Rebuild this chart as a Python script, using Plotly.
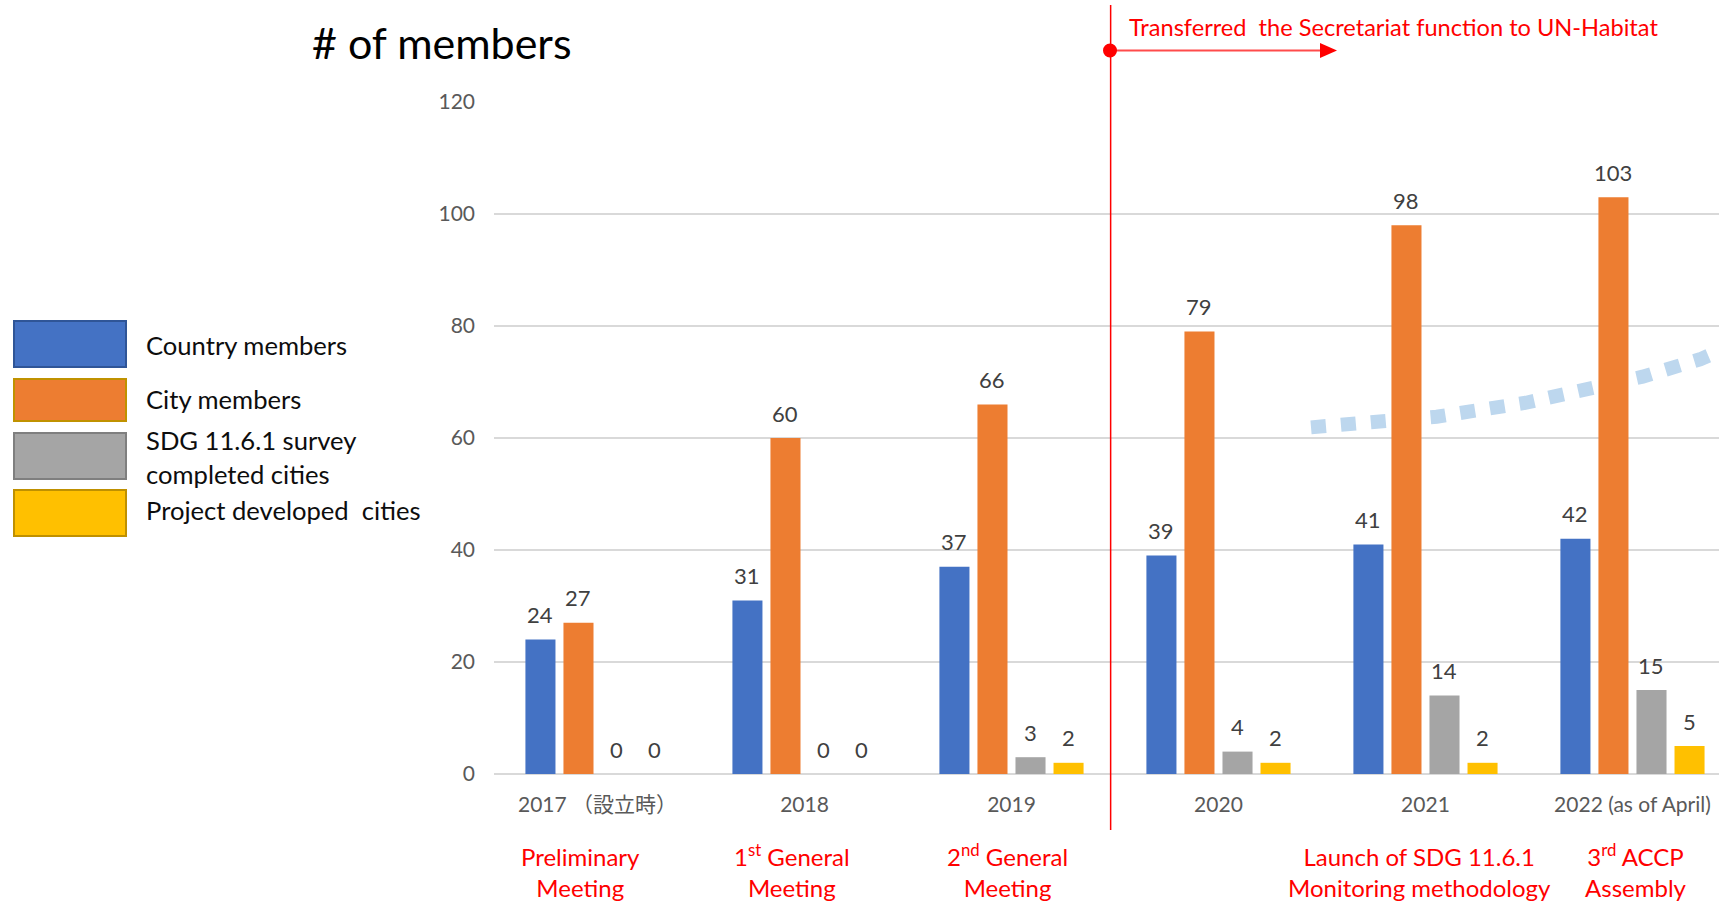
import plotly.graph_objects as go

# ---------------- data ----------------
categories = ["2017 （設立時）", "2018", "2019", "2020", "2021", "2022 (as of April)"]
country_members = [24, 31, 37, 39, 41, 42]
city_members = [27, 60, 66, 79, 98, 103]
sdg_survey_cities = [0, 0, 3, 4, 14, 15]
project_cities = [0, 0, 2, 2, 2, 5]

series_names = ["Country members", "City members",
                "SDG 11.6.1 survey completed cities", "Project developed  cities"]
series_values = [country_members, city_members, sdg_survey_cities, project_cities]

events = ["Preliminary<br>Meeting", "1<sup>st</sup> General<br>Meeting",
          "2<sup>nd</sup> General<br>Meeting", "",
          "Launch of SDG 11.6.1<br>Monitoring methodology", "3<sup>rd</sup> ACCP<br>Assembly"]

# light-blue dotted trend (category-index units / members)
trend_x = [3.447, 4.054, 4.486, 4.767, 5.049, 5.326, 5.5]
trend_y = [61.9, 63.8, 66.3, 68.45, 70.95, 74.05, 76.8]

y_ticks = [0, 20, 40, 60, 80, 100, 120]
transfer_at = 2.479  # position of Secretariat transfer (between 2019 and 2020)

# ---------------- styles ----------------
W, H = 1719, 902
L, R, T, B = 494, 1719, 102, 774
FONT = "Lato, 'Noto Sans CJK JP', sans-serif"
colors = ["#4472C4", "#ED7D31", "#A5A5A5", "#FFC000"]
legend_borders = ["#2F5597", "#C09200", "#7F7F7F", "#BF9000"]
RED = "#FF0000"
BARGAP, GROUPGAP = 0.265, 0.21
XMAX = 5.418


def pxx(x):
    return (x - L) / (R - L)


def pyp(y):
    return (B - y) / (B - T)


fig = go.Figure()

fig.add_trace(go.Scatter(
    x=trend_x, y=trend_y, mode="lines",
    line=dict(color="#BDD7EE", width=14, dash="15px,15px"),
    hoverinfo="skip", showlegend=False, zorder=0))

for name, vals, col in zip(series_names, series_values, colors):
    fig.add_trace(go.Bar(
        x=list(range(len(categories))), y=vals, name=name,
        marker=dict(color=col, line=dict(width=0)),
        showlegend=False, zorder=1))

band_px = (R - L) / (XMAX + 0.5)
slot_px = band_px * (1 - BARGAP) / 4

annotations = []
# data labels
for k, vals in enumerate(series_values):
    for i, v in enumerate(vals):
        annotations.append(dict(
            x=i, y=v, xref="x", yref="y", text=str(v), showarrow=False,
            xshift=(k - 1.5) * slot_px, yshift=25, yanchor="middle",
            font=dict(family=FONT, size=22, color="#404040")))

# event labels
event_shift = [-17, -12, -4, 0, -6, 4]
for i, ev in enumerate(events):
    if ev:
        annotations.append(dict(
            x=i, y=pyp(904), xref="x", yref="paper", text=ev, showarrow=False,
            xshift=event_shift[i], yanchor="bottom", xanchor="center", align="center",
            font=dict(family=FONT, size=24, color=RED)))

# title
annotations.append(dict(
    x=pxx(310), y=pyp(43), xref="paper", yref="paper", text="# of members",
    showarrow=False, xanchor="left", yanchor="middle",
    font=dict(family=FONT, size=43, color="#000000")))

# transfer text
annotations.append(dict(
    x=pxx(1127), y=pyp(27), xref="paper", yref="paper",
    text="Transferred  the Secretariat function to UN-Habitat",
    showarrow=False, xanchor="left", yanchor="middle",
    font=dict(family=FONT, size=23.6, color=RED)))

# legend
legend_boxes = [(321, 367), (379, 421), (433, 479), (490, 536)]
legend_lines = [("Country members", 345), ("City members", 399),
                ("SDG 11.6.1 survey", 440), ("completed cities", 474),
                ("Project developed  cities", 510)]
for txt, yc in legend_lines:
    annotations.append(dict(
        x=pxx(144), y=pyp(yc), xref="paper", yref="paper", text=txt,
        showarrow=False, xanchor="left", yanchor="middle",
        font=dict(family=FONT, size=25.6, color="#0D0D0D")))

shapes = []
for (y0, y1), col, bc in zip(legend_boxes, colors, legend_borders):
    shapes.append(dict(type="rect", xref="paper", yref="paper",
                       x0=pxx(14), x1=pxx(126), y0=pyp(y1), y1=pyp(y0),
                       fillcolor=col, line=dict(color=bc, width=2)))

# vertical transfer line
shapes.append(dict(type="line", xref="x", yref="paper",
                   x0=transfer_at, x1=transfer_at, y0=pyp(830), y1=pyp(5),
                   line=dict(color=RED, width=1.5)))
# arrow
shapes.append(dict(type="line", xref="paper", yref="paper",
                   x0=pxx(1110), x1=pxx(1322), y0=pyp(50.5), y1=pyp(50.5),
                   line=dict(color="#FF4B4B", width=2)))
shapes.append(dict(type="path", xref="paper", yref="paper",
                   path=f"M {pxx(1320)},{pyp(43)} L {pxx(1337)},{pyp(50.5)} L {pxx(1320)},{pyp(58)} Z",
                   fillcolor=RED, line=dict(width=0)))
shapes.append(dict(type="circle", xref="paper", yref="paper",
                   x0=pxx(1103), x1=pxx(1117), y0=pyp(57.5), y1=pyp(43.5),
                   fillcolor=RED, line=dict(width=0)))

fig.update_layout(
    width=W, height=H,
    margin=dict(l=L, r=W - R, t=T, b=H - B, pad=0),
    paper_bgcolor="white", plot_bgcolor="white",
    barmode="group", bargap=BARGAP, bargroupgap=GROUPGAP,
    showlegend=False,
    font=dict(family=FONT),
    xaxis=dict(range=[-0.5, XMAX], tickmode="array",
               tickvals=list(range(len(categories))), ticktext=categories,
               showgrid=False, zeroline=False, showline=False, ticks="",
               tickfont=dict(family=FONT, size=21, color="#595959"),
               ticklabelstandoff=16, fixedrange=True),
    yaxis=dict(range=[0, 120], tickmode="array", tickvals=y_ticks,
               showgrid=True, gridcolor="#D9D9D9", gridwidth=2,
               zeroline=True, zerolinecolor="#D9D9D9", zerolinewidth=2,
               showline=False, ticks="",
               tickfont=dict(family=FONT, size=21, color="#595959"),
               ticklabelstandoff=18, fixedrange=True),
    annotations=annotations,
    shapes=shapes,
)

fig.write_html("out.html", config={"displayModeBar": False},
               post_script="document.body.style.margin='0';document.body.style.overflow='hidden';")
